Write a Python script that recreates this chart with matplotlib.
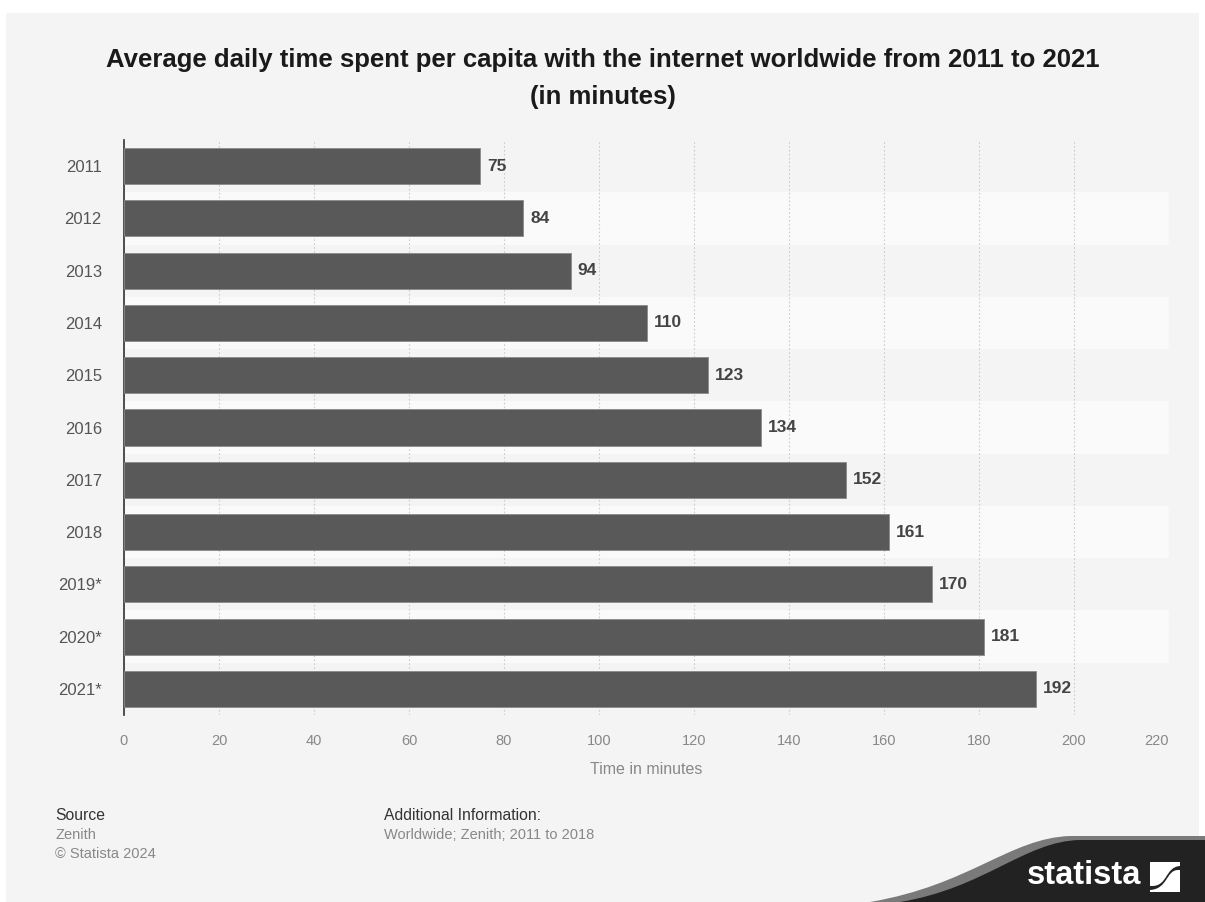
import numpy as np
import matplotlib.pyplot as plt
from matplotlib.patches import Rectangle, PathPatch
from matplotlib.path import Path

plt.rcParams['font.family'] = ['Liberation Sans', 'DejaVu Sans']

years = ['2011', '2012', '2013', '2014', '2015', '2016', '2017', '2018', '2019*', '2020*', '2021*']
minutes = [75, 84, 94, 110, 123, 134, 152, 161, 170, 181, 192]
xticks = [0, 20, 40, 60, 80, 100, 120, 140, 160, 180, 200, 220]

W, H = 1205, 902


def fx(px):
    return px / W


def fy(py):
    return 1 - py / H


fig = plt.figure(figsize=(W / 100, H / 100), dpi=100)
fig.patch.set_facecolor('white')

# page background
fig.patches.append(Rectangle((fx(6), 0), 1 - 12 / W, 1 - 13 / H, transform=fig.transFigure,
                             facecolor='#f4f4f4', edgecolor='none', zorder=-10))

ax = fig.add_axes([fx(124), fy(715), (1169 - 124) / W, (715 - 140) / H])
ax.set_facecolor('none')

y = np.arange(len(years))
# alternating light bands
for i in y:
    if i % 2 == 1:
        ax.axhspan(i - 0.5, i + 0.5, color='#fafafa', zorder=0, lw=0)

ax.barh(y, minutes, height=0.69, color='#595959', edgecolor='#8a8a8a', lw=0.6, zorder=3)
for yi, v in zip(y, minutes):
    ax.text(v + 1.5, yi, str(v), va='center', ha='left', fontsize=12.5, fontweight='bold',
            color='#444444', zorder=4)

ax.set_xlim(0, 220)
ax.set_ylim(len(years) - 0.5, -0.5)
ax.set_yticks(y)
ax.set_yticklabels(years, fontsize=12, color='#555555')
ax.set_xticks(xticks)
ax.set_xticklabels([str(t) for t in xticks], fontsize=10.5, color='#888888')
ax.get_xticklabels()[-1].set_horizontalalignment('right')
ax.tick_params(axis='y', length=0, pad=16)
ax.tick_params(axis='x', length=0, pad=14)
ax.xaxis.grid(True, linestyle=(0, (1.5, 2)), color='#cccccc', lw=0.8, zorder=1)
ax.set_axisbelow(True)
for s in ['top', 'right', 'bottom']:
    ax.spines[s].set_visible(False)
ax.spines['left'].set_color('#333333')
ax.spines['left'].set_linewidth(1.2)
ax.set_xlabel('Time in minutes', fontsize=11.5, color='#888888', labelpad=10)

fig.text(0.5, fy(60), 'Average daily time spent per capita with the internet worldwide from 2011 to 2021',
         ha='center', va='center', fontsize=18.5, fontweight='bold', color='#1a1a1a')
fig.text(0.5, fy(97), '(in minutes)', ha='center', va='center', fontsize=18.5,
         fontweight='bold', color='#1a1a1a')

fig.text(fx(55), fy(816), 'Source', fontsize=11.3, color='#333333', va='center')
fig.text(fx(55), fy(835), 'Zenith', fontsize=10.5, color='#888888', va='center')
fig.text(fx(55), fy(854), '\u00a9 Statista 2024', fontsize=10.5, color='#888888', va='center')
fig.text(fx(384), fy(816), 'Additional Information:', fontsize=11.3, color='#333333', va='center')
fig.text(fx(384), fy(835), 'Worldwide; Zenith; 2011 to 2018', fontsize=10.5, color='#888888', va='center')

# statista logo band
codes = [Path.MOVETO, Path.CURVE4, Path.CURVE4, Path.CURVE4, Path.LINETO, Path.LINETO, Path.CLOSEPOLY]
verts = [(fx(870), fy(902)), (fx(970), fy(885)), (fx(1010), fy(838)), (fx(1070), fy(836)),
         (fx(1205), fy(836)), (fx(1205), fy(902)), (fx(870), fy(902))]
fig.patches.append(PathPatch(Path(verts, codes), transform=fig.transFigure,
                             facecolor='#7a7a7a', edgecolor='none', zorder=1))
verts2 = [(fx(900), fy(902)), (fx(985), fy(888)), (fx(1025), fy(841)), (fx(1080), fy(840)),
          (fx(1205), fy(840)), (fx(1205), fy(902)), (fx(900), fy(902))]
fig.patches.append(PathPatch(Path(verts2, codes), transform=fig.transFigure,
                             facecolor='#222222', edgecolor='none', zorder=2))
fig.text(fx(1141), fy(876), 'statista', ha='right', va='center', fontsize=23.5,
         fontweight='bold', color='white', zorder=5)
# icon: square split by an s-curve
icon_codes = [Path.MOVETO, Path.LINETO, Path.LINETO, Path.CURVE4, Path.CURVE4, Path.CURVE4,
              Path.LINETO, Path.CLOSEPOLY]
up = [(fx(1150), fy(862)), (fx(1180), fy(862)), (fx(1180), fy(866)), (fx(1165), fy(867)),
      (fx(1168), fy(886)), (fx(1152), fy(886)), (fx(1150), fy(886)), (fx(1150), fy(862))]
fig.patches.append(PathPatch(Path(up, icon_codes), transform=fig.transFigure,
                             facecolor='white', edgecolor='none', zorder=5))
lo = [(fx(1180), fy(892)), (fx(1150), fy(892)), (fx(1150), fy(890)), (fx(1168), fy(889)),
      (fx(1166), fy(870)), (fx(1178), fy(870)), (fx(1180), fy(870)), (fx(1180), fy(892))]
fig.patches.append(PathPatch(Path(lo, icon_codes), transform=fig.transFigure,
                             facecolor='white', edgecolor='none', zorder=5))

fig.savefig('out.png', dpi=100, facecolor=fig.get_facecolor())
